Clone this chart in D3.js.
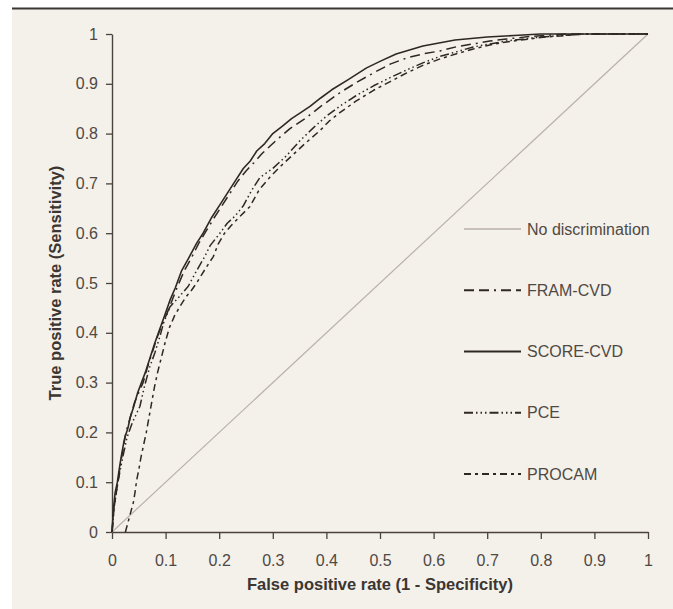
<!DOCTYPE html>
<html>
<head>
<meta charset="utf-8">
<script src="https://cdn.jsdelivr.net/npm/d3@7"></script>
<style>
  body { margin: 0; background: #fff; }
  text { font-family: "Liberation Sans", Arial, sans-serif; }
</style>
</head>
<body>
<div id="container"></div>
<script>
// courbes ROC : [taux de faux positifs, taux de vrais positifs]
const scoreCvd = [
  [0, 0], [0.003, 0.05], [0.006, 0.08], [0.01, 0.1], [0.014, 0.13], [0.017, 0.15],
  [0.022, 0.18], [0.024, 0.19], [0.03, 0.21], [0.034, 0.23], [0.04, 0.25], [0.048, 0.28],
  [0.055, 0.3], [0.062, 0.32], [0.071, 0.35], [0.08, 0.38], [0.09, 0.41], [0.1, 0.44],
  [0.108, 0.465], [0.118, 0.49], [0.13, 0.525], [0.143, 0.55], [0.158, 0.58], [0.17, 0.6],
  [0.185, 0.63], [0.2, 0.655], [0.215, 0.68], [0.23, 0.705], [0.245, 0.73], [0.258, 0.745],
  [0.27, 0.765], [0.285, 0.78], [0.3, 0.8], [0.318, 0.815], [0.335, 0.83], [0.352, 0.842],
  [0.37, 0.855], [0.39, 0.872], [0.41, 0.888], [0.44, 0.908], [0.475, 0.932], [0.5, 0.945],
  [0.53, 0.96], [0.555, 0.968], [0.58, 0.976], [0.61, 0.982], [0.64, 0.988], [0.7, 0.994],
  [0.75, 0.997], [0.8, 1], [1, 1]
];
const framCvd = [
  [0, 0], [0.004, 0.05], [0.011, 0.1], [0.018, 0.15], [0.026, 0.2], [0.034, 0.23],
  [0.042, 0.26], [0.05, 0.28], [0.058, 0.3], [0.066, 0.33], [0.075, 0.36], [0.084, 0.39],
  [0.093, 0.415], [0.103, 0.44], [0.112, 0.465], [0.123, 0.495], [0.135, 0.525], [0.148, 0.55],
  [0.162, 0.58], [0.176, 0.605], [0.19, 0.63], [0.205, 0.655], [0.22, 0.68], [0.235, 0.705],
  [0.25, 0.725], [0.265, 0.742], [0.28, 0.76], [0.295, 0.775], [0.31, 0.79], [0.332, 0.81],
  [0.36, 0.83], [0.39, 0.855], [0.425, 0.882], [0.455, 0.902], [0.488, 0.922], [0.52, 0.94],
  [0.55, 0.952], [0.58, 0.96], [0.612, 0.966], [0.645, 0.975], [0.674, 0.98], [0.705, 0.986],
  [0.736, 0.99], [0.78, 0.995], [0.85, 1], [1, 1]
];
const pce = [
  [0, 0], [0.004, 0.05], [0.011, 0.1], [0.02, 0.15], [0.028, 0.19], [0.038, 0.22],
  [0.052, 0.252], [0.06, 0.29], [0.07, 0.33], [0.08, 0.36], [0.09, 0.395], [0.096, 0.419],
  [0.108, 0.452], [0.125, 0.472], [0.142, 0.493], [0.158, 0.525], [0.173, 0.553], [0.183, 0.575],
  [0.2, 0.598], [0.215, 0.62], [0.23, 0.635], [0.245, 0.655], [0.26, 0.685], [0.276, 0.712],
  [0.3, 0.73], [0.326, 0.756], [0.35, 0.785], [0.376, 0.812], [0.4, 0.835], [0.425, 0.855],
  [0.455, 0.876], [0.488, 0.896], [0.52, 0.913], [0.55, 0.928], [0.58, 0.942], [0.612, 0.955],
  [0.645, 0.965], [0.674, 0.974], [0.705, 0.98], [0.736, 0.986], [0.8, 0.994], [0.88, 1], [1, 1]
];
const procam = [
  [0.025, 0], [0.03, 0.02], [0.035, 0.04], [0.04, 0.06], [0.043, 0.08], [0.046, 0.104],
  [0.05, 0.125], [0.054, 0.15], [0.059, 0.175], [0.064, 0.2], [0.069, 0.23], [0.074, 0.26],
  [0.079, 0.29], [0.085, 0.32], [0.092, 0.35], [0.099, 0.38], [0.107, 0.41], [0.117, 0.435],
  [0.128, 0.455], [0.138, 0.472], [0.148, 0.485], [0.158, 0.5], [0.168, 0.518],
  [0.178, 0.535], [0.189, 0.553], [0.198, 0.578], [0.21, 0.6], [0.222, 0.615], [0.24, 0.635],
  [0.257, 0.653], [0.275, 0.688], [0.295, 0.713], [0.315, 0.735], [0.338, 0.758], [0.36, 0.78],
  [0.388, 0.806], [0.405, 0.825], [0.425, 0.842], [0.455, 0.865], [0.488, 0.887], [0.52, 0.905],
  [0.55, 0.922], [0.58, 0.937], [0.612, 0.95], [0.645, 0.961], [0.674, 0.97], [0.705, 0.978],
  [0.736, 0.984], [0.8, 0.993], [0.88, 1], [1, 1]
];
const noDiscrimination = [[0, 0], [1, 1]];

const seriesNames = ["No discrimination", "FRAM-CVD", "SCORE-CVD", "PCE", "PROCAM"];
const seriesData = [noDiscrimination, framCvd, scoreCvd, pce, procam];

const xTicks = [0, 0.1, 0.2, 0.3, 0.4, 0.5, 0.6, 0.7, 0.8, 0.9, 1];
const yTicks = [0, 0.1, 0.2, 0.3, 0.4, 0.5, 0.6, 0.7, 0.8, 0.9, 1];
const xTitle = "False positive rate (1 - Specificity)";
const yTitle = "True positive rate (Sensitivity)";

// styles des lignes (pointillés comme sur l'original)
const styles = [
  { color: "#bab2aa", width: 1.2, dash: null },
  { color: "#2e2823", width: 1.5, dash: "10,5,10,5,2,5" },
  { color: "#2e2823", width: 1.6, dash: null },
  { color: "#2e2823", width: 1.5, dash: "9,3,1.5,3,1.5,3,1.5,3" },
  { color: "#2e2823", width: 1.5, dash: "7,4,3,4" }
];

const width = 673;
const height = 609;
const margin = { left: 112, right: 25, top: 34, bottom: 77 };

const x = d3.scaleLinear().domain([0, 1]).range([margin.left, width - margin.right]);
const y = d3.scaleLinear().domain([0, 1]).range([height - margin.bottom, margin.top]);

const svg = d3.create("svg")
  .attr("width", width)
  .attr("height", height)
  .attr("viewBox", [0, 0, width, height]);

// fond du panneau et filet du haut
svg.append("rect")
  .attr("x", 12).attr("y", 8)
  .attr("width", width - 12).attr("height", height - 8)
  .attr("fill", "#f4f0ea");
svg.append("line")
  .attr("x1", 12).attr("x2", width)
  .attr("y1", 8.5).attr("y2", 8.5)
  .attr("stroke", "#3a3633").attr("stroke-width", 2);

const fmt = d => String(+d.toFixed(1));
const axisColor = "#4a423c";
const textColor = "#4f4944";

const gx = svg.append("g")
  .attr("transform", `translate(0,${y(0)})`)
  .call(d3.axisBottom(x).tickValues(xTicks).tickFormat(fmt).tickSize(7).tickSizeOuter(0));
const gy = svg.append("g")
  .attr("transform", `translate(${x(0)},0)`)
  .call(d3.axisLeft(y).tickValues(yTicks).tickFormat(fmt).tickSize(6).tickSizeOuter(0));

for (const g of [gx, gy]) {
  g.select(".domain").attr("stroke", axisColor).attr("stroke-width", 1.4);
  g.selectAll(".tick line").attr("stroke", axisColor).attr("stroke-width", 1.3);
  g.selectAll(".tick text")
    .attr("fill", textColor)
    .attr("font-size", 16)
    .attr("font-family", "Liberation Sans, Arial, sans-serif");
}
gx.selectAll(".tick text").attr("y", 10).attr("dy", "1.5em");
gy.selectAll(".tick text").attr("x", -14);

const line = d3.line().x(d => x(d[0])).y(d => y(d[1]));

svg.append("g")
  .selectAll("path")
  .data(seriesData)
  .join("path")
  .attr("d", line)
  .attr("fill", "none")
  .attr("stroke", (d, i) => styles[i].color)
  .attr("stroke-width", (d, i) => styles[i].width)
  .attr("stroke-dasharray", (d, i) => styles[i].dash)
  .attr("stroke-linejoin", "round");

// titres des axes
svg.append("text")
  .attr("x", (x(0) + x(1)) / 2)
  .attr("y", 590)
  .attr("text-anchor", "middle")
  .attr("font-weight", "bold")
  .attr("font-size", 16.5)
  .attr("fill", "#3b3632")
  .text(xTitle);

svg.append("text")
  .attr("transform", `translate(61,${(y(0) + y(1)) / 2}) rotate(-90)`)
  .attr("text-anchor", "middle")
  .attr("font-weight", "bold")
  .attr("font-size", 16.5)
  .attr("fill", "#3b3632")
  .text(yTitle);

// légende
const legendY = d3.scalePoint().domain(seriesNames).range([229, 474]);
const legend = svg.append("g")
  .selectAll("g")
  .data(seriesNames)
  .join("g")
  .attr("transform", d => `translate(464,${legendY(d)})`);

legend.append("line")
  .attr("x1", 0).attr("x2", 57)
  .attr("stroke", (d, i) => styles[i].color)
  .attr("stroke-width", (d, i) => styles[i].width + 0.3)
  .attr("stroke-dasharray", (d, i) => styles[i].dash);

legend.append("text")
  .attr("x", 63)
  .attr("dy", "0.35em")
  .attr("font-size", 16)
  .attr("fill", textColor)
  .text(d => d);

d3.select("#container").node().append(svg.node());
</script>
</body>
</html>
